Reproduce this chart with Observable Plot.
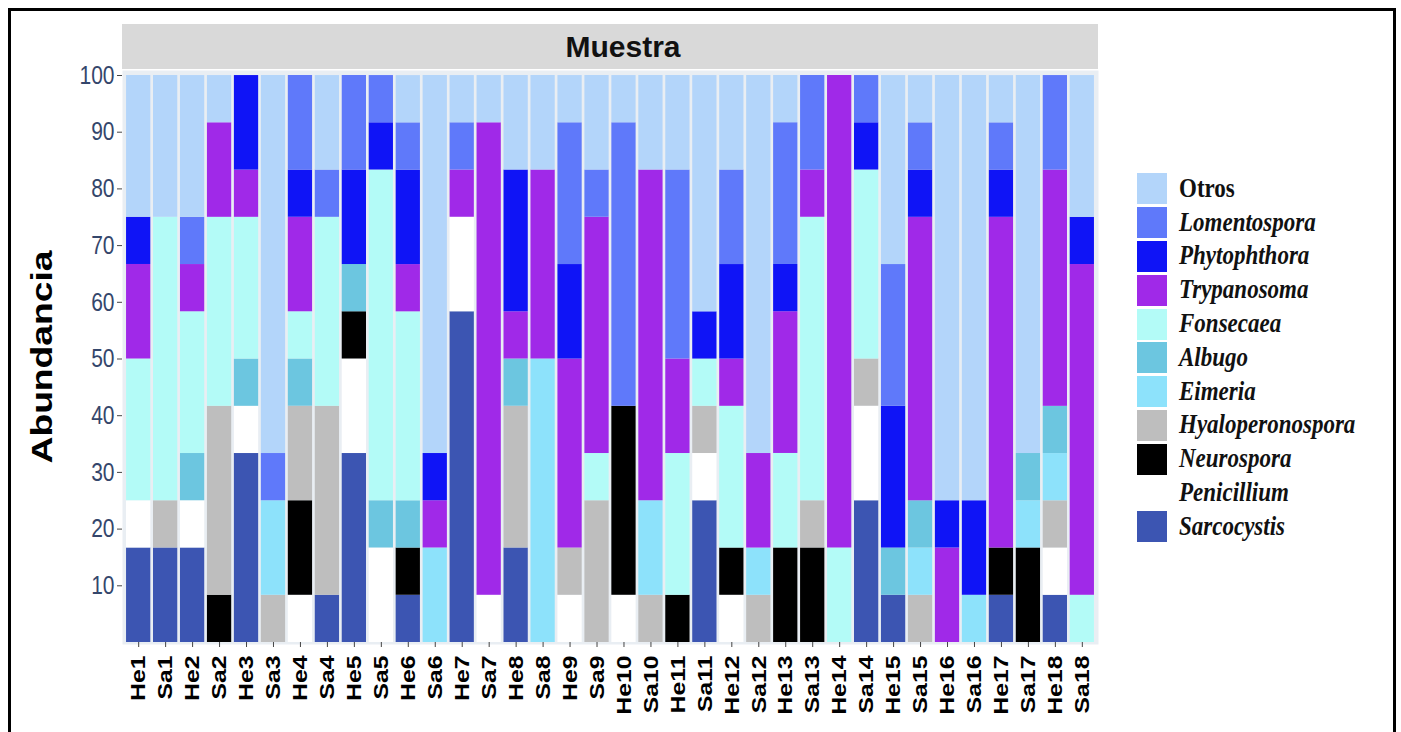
<!DOCTYPE html>
<html><head><meta charset="utf-8">
<script src="https://cdn.jsdelivr.net/npm/d3@7"></script>
<script src="https://cdn.jsdelivr.net/npm/@observablehq/plot@0.6"></script>
<style>
body{margin:0;background:#fff;width:1401px;height:732px;overflow:hidden;position:relative;font-family:"Liberation Sans",Arial,sans-serif;}
#frame{position:absolute;left:8px;top:8px;width:1382px;height:760px;border:3px solid #000;}
#strip{position:absolute;left:122px;top:24px;width:976px;height:45px;background:#d9d9d9;display:flex;align-items:center;justify-content:center;font-weight:bold;font-size:30px;color:#111;box-sizing:border-box;padding-left:26px}
#chart{position:absolute;left:0;top:0}
#ytitle{position:absolute;left:42px;top:357px;transform:translate(-50%,-50%) rotate(-90deg) scaleX(1.24);font-weight:bold;font-size:30px;white-space:nowrap;color:#000}
#legend{position:absolute;left:1137px;top:172px}
.row{display:flex;align-items:center;height:33.8px}
.sw{width:30px;height:31px;margin-right:12px;flex:none}
.lab{font-family:"Liberation Serif","Times New Roman",serif;font-weight:bold;font-style:italic;font-size:23px;color:#111;transform:scaleY(1.2);transform-origin:left center}
#chart g[aria-label="x-axis tick label"] text{font-weight:bold}
</style>
</head><body>
<div id="frame"></div>
<div id="strip">Muestra</div>
<div id="chart"></div>
<div id="ytitle">Abundancia</div>
<div id="legend"></div>
<script>
const samples = ["He1","Sa1","He2","Sa2","He3","Sa3","He4","Sa4","He5","Sa5","He6","Sa6","He7","Sa7","He8","Sa8","He9","Sa9","He10","Sa10","He11","Sa11","He12","Sa12","He13","Sa13","He14","Sa14","He15","Sa15","He16","Sa16","He17","Sa17","He18","Sa18"];
// legend order (top of stack first)
const genera = ["Otros","Lomentospora","Phytophthora","Trypanosoma","Fonsecaea","Albugo","Eimeria","Hyaloperonospora","Neurospora","Penicillium","Sarcocystis"];
const colors = ["#b3d5fa","#5f79fa","#0f14f6","#a029e8","#b3fbf7","#6cc6e0","#8de2fb","#bebebe","#000000","#ffffff","#3c55b2"];
const yTicks = [10,20,30,40,50,60,70,80,90,100];

// abundance (%) per sample, in the order of samples
const otros            = [25,25,25,8.33,0,66.67,0,16.67,0,0,8.33,66.67,8.33,8.33,16.67,16.67,8.33,16.67,8.33,16.67,16.67,41.67,16.67,66.67,8.33,0,0,0,33.33,8.33,75,75,8.33,66.67,0,25];
const lomentospora     = [0,0,8.33,0,0,8.33,16.67,8.33,16.67,8.33,8.33,0,8.33,0,0,0,25,8.33,50,0,33.33,0,16.67,0,25,16.67,0,8.33,25,8.33,0,0,8.33,0,16.67,0];
const phytophthora     = [8.33,0,0,0,16.67,0,8.33,0,16.67,8.33,16.67,8.33,0,0,25,0,16.67,0,0,0,0,8.33,16.67,0,8.33,0,0,8.33,25,8.33,8.33,16.67,8.33,0,0,8.33];
const trypanosoma      = [16.67,0,8.33,16.67,8.33,0,16.67,0,0,0,8.33,8.33,8.33,83.33,8.33,33.33,33.33,41.67,0,58.33,16.67,0,8.33,16.67,25,8.33,83.33,0,0,50,16.67,0,58.33,0,41.67,58.33];
const fonsecaea        = [25,50,25,33.33,25,0,8.33,33.33,0,58.33,33.33,0,0,0,0,0,0,8.33,0,0,25,8.33,25,0,16.67,50,16.67,33.33,0,0,0,0,0,0,0,8.33];
const albugo           = [0,0,8.33,0,8.33,0,8.33,0,8.33,8.33,8.33,0,0,0,8.33,0,0,0,0,0,0,0,0,0,0,0,0,0,8.33,8.33,0,0,0,8.33,8.33,0];
const eimeria          = [0,0,0,0,0,16.67,0,0,0,0,0,16.67,0,0,0,50,0,0,0,16.67,0,0,0,8.33,0,0,0,0,0,8.33,0,8.33,0,8.33,8.33,0];
const hyaloperonospora = [0,8.33,0,33.33,0,8.33,16.67,33.33,0,0,0,0,0,0,25,0,8.33,25,0,8.33,0,8.33,0,8.33,0,8.33,0,8.33,0,8.33,0,0,0,0,8.33,0];
const neurospora       = [0,0,0,8.33,0,0,16.67,0,8.33,0,8.33,0,0,0,0,0,0,0,33.33,0,8.33,0,8.33,0,16.67,16.67,0,0,0,0,0,0,8.33,16.67,0,0];
const penicillium      = [8.33,0,8.33,0,8.33,0,8.33,0,16.67,16.67,0,0,16.67,8.33,0,0,8.33,0,8.33,0,0,8.33,8.33,0,0,0,0,16.67,0,0,0,0,0,0,8.33,0];
const sarcocystis      = [16.67,16.67,16.67,0,33.33,0,0,8.33,33.33,0,8.33,0,58.33,0,16.67,0,0,0,0,0,0,25,0,0,0,0,0,25,8.33,0,0,0,8.33,0,8.33,0];

const series = [otros,lomentospora,phytophthora,trypanosoma,fonsecaea,albugo,eimeria,hyaloperonospora,neurospora,penicillium,sarcocystis];

// build long table, bottom of stack first
const data = [];
for (let gi = genera.length - 1; gi >= 0; gi--) {
  series[gi].forEach((v, i) => { if (v > 0) data.push({sample: samples[i], genus: genera[gi], value: v}); });
}

const chart = Plot.plot({
  width: 1110, height: 732,
  marginLeft: 122, marginRight: 12, marginTop: 75, marginBottom: 90,
  style: {background: "transparent", fontFamily: "Liberation Sans, Arial, sans-serif"},
  x: {domain: samples, paddingInner: 0.1, paddingOuter: 0.15},
  y: {domain: [0, 100]},
  color: {domain: genera, range: colors},
  marks: [
    Plot.frame({fill: "#e9eef3", insetTop: -5, insetBottom: -2}),
    Plot.barY(data, {x: "sample", y: "value", fill: "genus"}),
    Plot.axisY({ticks: yTicks, tickSize: 5, tickPadding: 3, fontSize: 21, fill: "#34466b", stroke: "#444", label: null}),
    Plot.axisX({tickRotate: -90, tickSize: 5, tickPadding: 8, fontSize: 21, fontWeight: "bold", fill: "#000", stroke: "#444", label: null})
  ]
});
document.getElementById("chart").appendChild(chart);

// the reference picture is vertically stretched: stretch the axis texts the same way
function stretch(nodes, ky, anchor) {
  nodes.forEach(t => {
    const r = t.getBoundingClientRect();
    const cx = r.left + r.width / 2;
    const cy = anchor === "top" ? r.top : r.top + r.height / 2;
    const parent = t.parentNode;
    const pt = chart.createSVGPoint();
    pt.x = cx; pt.y = cy;
    const p = pt.matrixTransform(parent.getScreenCTM().inverse());
    const g = document.createElementNS("http://www.w3.org/2000/svg", "g");
    g.setAttribute("transform", `translate(${p.x},${p.y}) scale(1,${ky}) translate(${-p.x},${-p.y})`);
    parent.insertBefore(g, t);
    g.appendChild(t);
  });
}
stretch(chart.querySelectorAll('g[aria-label="y-axis tick label"] text'), 1.2, "center");
stretch(chart.querySelectorAll('g[aria-label="x-axis tick label"] text'), 1.18, "top");

const legend = d3.select("#legend");
genera.forEach((g, i) => {
  const row = legend.append("div").attr("class", "row");
  row.append("div").attr("class", "sw").style("background", colors[i]);
  row.append("div").attr("class", "lab").style("font-style", g === "Otros" ? "normal" : "italic").text(g);
});
</script>
</body></html>
